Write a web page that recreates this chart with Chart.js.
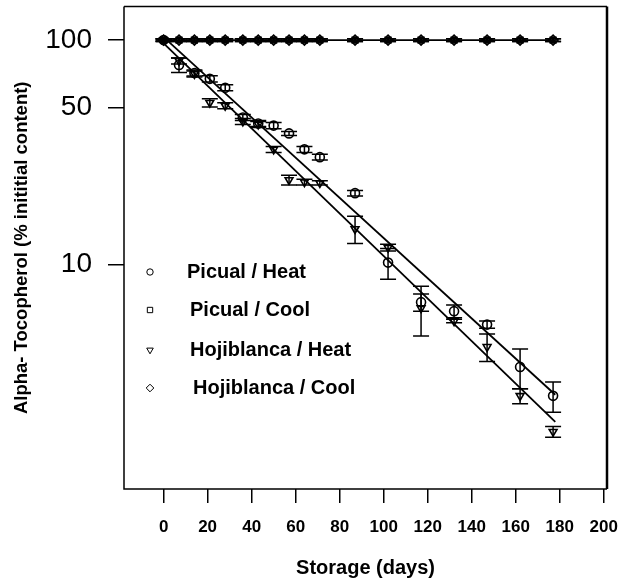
<!DOCTYPE html>
<html>
<head>
<meta charset="utf-8">
<script src="https://cdn.jsdelivr.net/npm/chart.js@4.4.1/dist/chart.umd.min.js"></script>
<style>
  html, body { margin: 0; padding: 0; background: #fff; }
</style>
</head>
<body>
<canvas id="chart" width="631" height="586"></canvas>
<script>
// storage days sampled
const days = [0, 7, 14, 21, 28, 36, 43, 50, 57, 64, 71, 87, 102, 117, 132, 147, 162, 177];

// % of initial alpha-tocopherol
const picualHeat    = [100, 77.5, 71.4, 67.2, 61.3, 45.2, 42.5, 41.6, 38.4, 32.6, 30.1, 20.8, 10.2, 6.8, 6.2, 5.4, 3.5, 2.6];
const picualHeatErr = [1, 5.7, 2.2, 2.1, 1.9, 1.4, 1.3, 1.3, 0.8, 1.0, 0.9, 0.6, 1.6, 0.6, 0.4, 0.2, 0.7, 0.4];
const hojiHeat      = [100, 80.8, 70.7, 52.6, 51.0, 43.4, 42.1, 32.6, 23.8, 23.3, 23.1, 14.4, 11.9, 6.4, 5.6, 4.3, 2.6, 1.8];
const hojiHeatErr   = [1, 2.5, 2.2, 2.2, 1.6, 1.3, 1.3, 1.0, 1.2, 0.7, 0.5, 2.0, 0.4, 1.6, 0.1, 0.6, 0.2, 0.1];
const picualCool    = [100, 100, 100, 100, 100, 100, 100, 100, 100, 100, 100, 100, 100, 100, 100, 100, 100, 100];
const hojiCool      = [100, 100, 100, 100, 100, 100, 100, 100, 100, 100, 100, 100, 100, 100, 100, 100, 100, 100];
const coolErr       = [1.5, 1.5, 1.5, 1.5, 1.5, 1.5, 1.5, 1.5, 1.5, 1.5, 1.5, 1.5, 1.5, 1.5, 1.5, 1.5, 1.5, 1.5];

// fitted decay lines (end points)
const picualFitDays = [1.5, 178];
const picualFitVals = [100, 2.63];
const hojiFitDays   = [-1.5, 178];
const hojiFitVals   = [100, 1.99];
const coolFitDays   = [-1, 178];
const coolFitVals   = [100, 100];

const xTicks = [0, 20, 40, 60, 80, 100, 120, 140, 160, 180, 200];
const yTicks = [10, 50, 100];

const labels = ["Picual / Heat", "Picual / Cool", "Hojiblanca / Heat", "Hojiblanca / Cool"];

const FONT = "'Liberation Sans', Arial, sans-serif";

const pts = (xs, ys) => xs.map((x, i) => ({x: x, y: ys[i]}));

function markerSet(label, vals, err, style, radius, rot) {
  return {
    label: label,
    data: pts(days, vals),
    err: err,
    showLine: false,
    pointStyle: style,
    pointRadius: radius,
    pointRotation: rot || 0,
    pointBorderColor: "#000",
    pointBackgroundColor: "rgba(0,0,0,0)",
    pointBorderWidth: 1.6,
    inLegend: true
  };
}

function fitSet(xs, ys) {
  return {
    data: pts(xs, ys),
    showLine: true,
    pointRadius: 0,
    borderColor: "#000",
    borderWidth: 1.8,
    fill: false
  };
}

const errorBars = {
  id: "errorBars",
  beforeDatasetsDraw(chart) {
    const ctx = chart.ctx, xs = chart.scales.x, ys = chart.scales.y;
    ctx.save();
    ctx.strokeStyle = "#000";
    ctx.lineWidth = 1.5;
    chart.data.datasets.forEach(ds => {
      if (!ds.err) return;
      ds.data.forEach((p, i) => {
        const e = ds.err[i];
        const px = xs.getPixelForValue(p.x);
        const top = ys.getPixelForValue(p.y + e);
        const bot = ys.getPixelForValue(p.y - e);
        ctx.beginPath();
        ctx.moveTo(px, top); ctx.lineTo(px, bot);
        ctx.moveTo(px - 8, top); ctx.lineTo(px + 8, top);
        ctx.moveTo(px - 8, bot); ctx.lineTo(px + 8, bot);
        ctx.stroke();
      });
    });
    ctx.restore();
  }
};

const frame = {
  id: "frame",
  afterDraw(chart) {
    const {left, right, top, bottom} = chart.chartArea;
    const ctx = chart.ctx;
    ctx.save();
    ctx.strokeStyle = "#000";
    ctx.lineWidth = 1.5;
    ctx.beginPath();
    ctx.moveTo(left, top); ctx.lineTo(left, bottom); ctx.lineTo(right, bottom);
    ctx.moveTo(left, top); ctx.lineTo(right, top);
    ctx.stroke();
    ctx.lineWidth = 2.5;
    ctx.beginPath();
    ctx.moveTo(right, top); ctx.lineTo(right, bottom);
    ctx.stroke();
    ctx.restore();
  }
};

// legend inside the plot, lower left
const insideLegend = {
  id: "insideLegend",
  afterDraw(chart) {
    const ctx = chart.ctx;
    const rows = [272, 310, 350, 388];
    const textX = [187, 190, 190, 193];
    const sets = chart.data.datasets.filter(d => d.inLegend);
    ctx.save();
    ctx.textBaseline = "middle";
    sets.forEach((ds, i) => {
      ctx.fillStyle = "#fff";
      ctx.strokeStyle = "#000";
      Chart.helpers.drawPoint(ctx, {
        pointStyle: ds.pointStyle,
        radius: ds.pointStyle === "circle" ? 3.2 : 3.8,
        rotation: ds.pointRotation,
        borderWidth: 1.5
      }, 150, rows[i]);
      ctx.fillStyle = "#000";
      ctx.font = "bold 20px " + FONT;
      ctx.fillText(ds.label, textX[i], rows[i]);
    });
    ctx.restore();
  }
};

new Chart(document.getElementById("chart"), {
  type: "scatter",
  data: {
    datasets: [
      markerSet(labels[0], picualHeat, picualHeatErr, "circle", 4.5),
      markerSet(labels[1], picualCool, coolErr, "rect", 4),
      markerSet(labels[2], hojiHeat, hojiHeatErr, "triangle", 4.5, 180),
      markerSet(labels[3], hojiCool, coolErr, "rectRot", 5),
      fitSet(picualFitDays, picualFitVals),
      fitSet(hojiFitDays, hojiFitVals),
      fitSet(coolFitDays, coolFitVals)
    ]
  },
  options: {
    responsive: false,
    animation: false,
    devicePixelRatio: 1,
    layout: { padding: { left: 0, right: 24, top: 5, bottom: 0 } },
    plugins: { legend: { display: false }, tooltip: { enabled: false } },
    scales: {
      x: {
        type: "linear",
        min: -18,
        max: 201.5,
        border: { display: false },
        grid: { drawOnChartArea: false, drawTicks: true, tickLength: 14, color: "#000", lineWidth: 1.5 },
        ticks: { color: "#000", padding: 14, font: { family: FONT, size: 17, weight: "bold" }, maxRotation: 0 },
        afterBuildTicks: s => { s.ticks = xTicks.map(v => ({value: v})); },
        afterFit: s => { s.height = 97; s.paddingLeft = 0; s.paddingRight = 0; },
        title: {
          display: true,
          text: "Storage (days)",
          color: "#000",
          font: { family: FONT, size: 20, weight: "bold" },
          padding: { top: 0, bottom: 6 }
        }
      },
      y: {
        type: "logarithmic",
        min: 1,
        max: 141,
        border: { display: false },
        grid: { drawOnChartArea: false, drawTicks: true, tickLength: 16, color: "#000", lineWidth: 1.5 },
        ticks: {
          color: "#000",
          padding: 16,
          font: { family: FONT, size: 28 },
          callback: v => String(v)
        },
        afterBuildTicks: s => { s.ticks = yTicks.map(v => ({value: v})); },
        afterFit: s => { s.width = 124; s.paddingTop = 0; s.paddingBottom = 0; },
        title: {
          display: true,
          text: "Alpha- Tocopherol (% inititial content)",
          color: "#000",
          font: { family: FONT, size: 18.5, weight: "bold" },
          padding: { top: 11, bottom: 0 }
        }
      }
    }
  },
  plugins: [errorBars, frame, insideLegend]
});
</script>
</body>
</html>
